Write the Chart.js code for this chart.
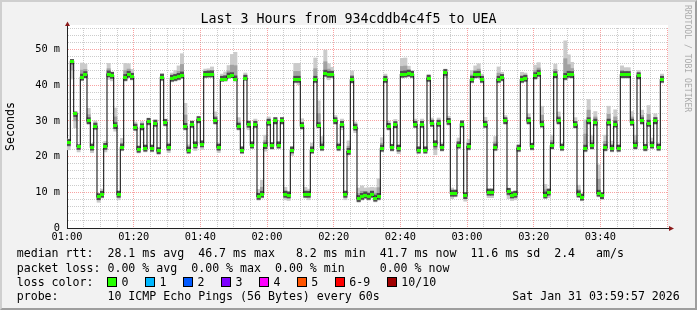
<!DOCTYPE html>
<html>
<head>
<meta charset="utf-8">
<script src="https://cdn.jsdelivr.net/npm/chart.js@4.4.1/dist/chart.umd.min.js"></script>
<style>
    html, body { margin: 0; padding: 0; }
    body {
        width: 697px; height: 310px; overflow: hidden; position: relative;
        background: #f2f2f2; color: #000;
        font-family: 'DejaVu Sans Mono', monospace;
    }
    #rtt { position: absolute; left: 0; top: 0; }
    #frame {
        position: absolute; left: 0; top: 0; width: 697px; height: 310px;
        box-sizing: border-box; border: 2px solid; pointer-events: none;
        border-color: #cfcfcf #9e9e9e #9e9e9e #cfcfcf;
    }
    .txt { position: absolute; white-space: pre; }
    #title { left: 0; width: 697px; top: 11px; text-align: center; font-size: 13.3px; line-height: 16px; }
    #unit { left: 4px; top: 151px; font-size: 11.6px; line-height: 13px; font-weight: normal; transform-origin: 0 0; transform: rotate(-90deg); }
    #mark { left: 692px; top: 5px; font-size: 8.1px; line-height: 9px; color: #ababab; transform-origin: 0 0; transform: rotate(90deg); }
    .leg { left: 16.7px; font-size: 11.6px; line-height: 14.2px; }
    .box { display: inline-block; width: 8px; height: 8px; border: 1px solid #000; margin-right: 4px; vertical-align: -1px; }
    .gap { display: inline-block; width: 17px; }
</style>
</head>
<body>
<canvas id="rtt" width="697" height="310"></canvas>
<div id="title" class="txt">Last 3 Hours from 934cddb4c4f5 to UEA</div>
<div id="unit" class="txt">Seconds</div>
<div id="mark" class="txt">RRDTOOL / TOBI OETIKER</div>
<div id="leg1" class="txt leg" style="top:246.4px"></div>
<div id="leg2" class="txt leg" style="top:260.6px"></div>
<div id="leg3" class="txt leg" style="top:274.8px"></div>
<div id="leg4" class="txt leg" style="top:289px"></div>
<div id="frame"></div>
<script>
// ── Data: one median (ms) per minute, 01:00 → 04:00 ───────────
const MEDIAN_MS = [
    23.9, 46.7, 32.0, 22.8, 42.2, 42.9, 30.0, 22.6, 28.5, 8.7,
    9.4, 22.8, 43.1, 42.7, 28.6, 9.4, 22.6, 42.1, 43.0, 42.4,
    28.2, 22.0, 28.3, 22.3, 29.8, 22.3, 29.3, 21.6, 42.2, 29.5,
    22.6, 41.9, 42.1, 42.4, 42.8, 28.4, 21.8, 29.0, 23.2, 30.3,
    23.5, 43.0, 43.1, 43.1, 30.0, 22.6, 41.6, 41.7, 42.5, 42.6,
    41.7, 28.4, 21.8, 41.9, 29.0, 23.2, 29.0, 8.8, 9.4, 23.0,
    29.6, 23.0, 30.0, 23.2, 30.0, 9.4, 9.2, 21.8, 41.6, 41.6,
    28.6, 9.4, 9.4, 21.8, 41.6, 28.6, 22.6, 43.3, 43.0, 43.0,
    30.0, 22.6, 29.0, 9.4, 21.4, 41.5, 28.2, 8.2, 8.8, 9.2,
    8.8, 9.4, 8.3, 8.8, 22.3, 41.6, 28.4, 22.5, 28.9, 22.3,
    43.0, 43.1, 43.3, 43.0, 29.0, 21.8, 29.0, 21.8, 41.9, 29.3,
    23.5, 29.3, 22.5, 43.5, 29.8, 9.7, 9.7, 23.2, 29.1, 9.0,
    22.8, 41.6, 42.9, 43.0, 41.6, 29.0, 10.0, 10.0, 22.6, 41.6,
    42.1, 30.0, 10.2, 9.2, 9.4, 22.3, 41.6, 41.9, 30.0, 22.8,
    42.6, 43.3, 29.1, 9.2, 10.0, 23.0, 42.9, 30.0, 22.6, 42.4,
    43.0, 42.9, 28.9, 9.5, 8.6, 22.3, 30.0, 23.0, 29.6, 9.7,
    9.0, 22.5, 29.6, 22.3, 29.1, 22.3, 42.9, 42.9, 42.9, 29.6,
    23.0, 42.6, 30.0, 22.5, 29.3, 23.2, 30.0, 22.6, 41.6
];
// smoke extent above / below the median (ms), read per minute
const SMOKE_UP = [
    1, 0.5, 0.5, 0.5, 4, 3, 3.5, 1, 1.5, 1,
    1.5, 1.5, 3, 1, 5, 1, 2.5, 4, 3, 2,
    1.5, 1, 1.5, 1, 1, 1, 1, 1, 1, 1,
    1, 1.5, 2, 3, 6, 6.5, 1.5, 1, 1, 1,
    1, 1.5, 1.5, 2, 2.5, 1, 1.5, 2, 3, 6,
    7.5, 2.5, 1, 1.5, 1, 1, 1.5, 2, 4, 3,
    1.5, 1, 1, 1, 1, 2, 1, 1, 4.5, 4.5,
    2, 2, 1.5, 2, 6, 7, 3, 6.5, 3, 2,
    1.5, 1, 1.5, 1, 3, 2.5, 1.5, 3, 3, 2,
    2.5, 2, 3, 5, 3, 1.5, 1.5, 1, 1.5, 1,
    4.5, 4.5, 2, 1, 1.5, 1, 1.5, 1, 1, 1.5,
    1, 1.5, 1.5, 1, 1.5, 1.5, 1, 2, 1, 1,
    2, 2.5, 2.5, 3, 1.5, 2, 1, 1, 3, 3.5,
    1.5, 1.5, 1, 1, 1, 1, 2, 1.5, 2, 1,
    3, 3, 5, 3, 1, 3, 3, 2.5, 1, 10,
    5.5, 3.5, 2, 2.5, 1, 8, 6, 3, 3, 8,
    1, 3.5, 4.5, 2, 4, 1, 2.5, 2, 2, 3,
    3, 1.5, 3, 1, 5, 2, 2, 1, 1.5
];
const SMOKE_DOWN = [
    2, 5, 4, 1.5, 1, 1, 1, 1.5, 1, 1.5,
    1, 1.5, 1.5, 1.5, 1.5, 1.5, 1, 1, 1, 1,
    1, 1, 1, 1, 1, 1, 1, 1, 1, 1,
    1.5, 1, 1, 1, 1, 1, 1, 1, 1.5, 1,
    1.5, 1, 1, 1, 1, 1.5, 0.5, 0.5, 0.5, 0.5,
    0.5, 1, 1, 0.5, 1.5, 1, 1, 1, 1, 1.5,
    1, 1, 1, 1, 1, 1.5, 1.5, 1.5, 1, 1.5,
    1, 1, 1.5, 1, 1, 0.5, 1, 1, 1.5, 1,
    1, 1, 1.5, 1.5, 1, 1, 1.5, 1, 1, 1,
    1, 1, 1, 1, 1, 1, 1, 1, 1, 1.5,
    1, 1, 1, 1, 1, 1, 1, 1, 1, 1,
    3, 1, 1, 1.5, 1, 1.5, 1, 1, 1, 1.5,
    1, 1, 1, 1, 1, 1, 1.5, 1.5, 1, 1,
    1, 1, 2, 1.5, 1.5, 1, 1, 1, 1, 1,
    1, 1, 1, 1, 1.5, 1, 1, 1, 1, 1,
    1, 1, 1, 1, 1, 1, 1, 1, 1, 1,
    1, 1, 1, 1, 1, 1, 1, 1, 1, 1,
    1, 1, 1, 1, 1, 1, 1, 1, 1
];

// x axis: minutes since 01:00
const TICK_MINUTES = [0, 20, 40, 60, 80, 100, 120, 140, 160];
const TICK_LABELS = ['01:00', '01:20', '01:40', '02:00', '02:20', '02:40', '03:00', '03:20', '03:40'];

// legend
const STAT_LINE = 'median rtt:  28.1 ms avg  46.7 ms max   8.2 ms min  41.7 ms now  11.6 ms sd  2.4   am/s';
const LOSS_LINE = 'packet loss: 0.00 % avg  0.00 % max  0.00 % min     0.00 % now';
const LOSS_LABELS = ['0', '1', '2', '3', '4', '5', '6-9', '10/10'];
const LOSS_COLORS = ['#26ff00', '#00b8ff', '#0059ff', '#7e00ff', '#ff00ff', '#ff5500', '#ff0000', '#a10000'];
const PROBE_LINE = 'probe:       10 ICMP Echo Pings (56 Bytes) every 60s                   Sat Jan 31 03:59:57 2026';

// ── Styles ────────────────────────────────────────────────────
const GRID_MINOR = 'rgba(143,143,143,0.45)';
const GRID_MAJOR = 'rgba(240,48,48,0.45)';
const AXIS_COLOR = '#222';
const ARROW_COLOR = '#8b1a1a';
const SMOKE_LIGHT = '#cbcbcb';
const SMOKE_MID = '#a2a2a2';
const SMOKE_DARK = '#4e4e4e';

(function () {
    'use strict';

    // ── Legend text ───────────────────────────────────────────
    document.getElementById('leg1').textContent = STAT_LINE;
    document.getElementById('leg2').textContent = LOSS_LINE;
    document.getElementById('leg4').textContent = PROBE_LINE;
    var leg3 = document.getElementById('leg3');
    leg3.appendChild(document.createTextNode('loss color:  '));
    LOSS_LABELS.forEach(function (lab, i) {
        var b = document.createElement('span');
        b.className = 'box';
        b.style.background = LOSS_COLORS[i];
        leg3.appendChild(b);
        leg3.appendChild(document.createTextNode(lab));
        var g = document.createElement('span');
        g.className = 'gap';
        leg3.appendChild(g);
    });

    // ── Datasets ──────────────────────────────────────────────
    var median = MEDIAN_MS.map(function (m, i) { return { x: i + 0.5, y: m }; });
    var light = MEDIAN_MS.map(function (m, i) {
        return { x: i + 0.5, y: [m - SMOKE_DOWN[i], m + SMOKE_UP[i]] };
    });
    var mid = MEDIAN_MS.map(function (m, i) {
        return { x: i + 0.5, y: [m - SMOKE_DOWN[i] * 0.5, m + SMOKE_UP[i] * 0.5] };
    });
    var dark = MEDIAN_MS.map(function (m, i) {
        return { x: i + 0.5, y: [m - Math.min(SMOKE_DOWN[i], 0.8), m + Math.min(SMOKE_UP[i], 0.9)] };
    });

    // green median marker
    var mark = document.createElement('canvas');
    mark.width = 4; mark.height = 3;
    var mc = mark.getContext('2d');
    mc.fillStyle = LOSS_COLORS[0];
    mc.fillRect(0, 0, 4, 3);

    function smoke(data, color, order) {
        return {
            type: 'bar', data: data, backgroundColor: color, borderWidth: 0,
            grouped: false, barPercentage: 1, categoryPercentage: 1, order: order
        };
    }

    // ── Plugins ───────────────────────────────────────────────
    var plotBg = {
        id: 'plotBg',
        beforeDraw: function (chart) {
            var a = chart.chartArea, c = chart.ctx;
            c.save();
            c.fillStyle = '#fff';
            c.fillRect(a.left, a.top - 3, a.right - a.left + 1, a.bottom - a.top + 3);
            c.restore();
        }
    };
    var arrows = {
        id: 'arrows',
        afterDraw: function (chart) {
            var a = chart.chartArea, c = chart.ctx;
            var x0 = Math.round(a.left) + 0.5, y0 = Math.round(a.bottom) + 0.5;
            c.save();
            c.strokeStyle = AXIS_COLOR;
            c.lineWidth = 1;
            c.beginPath();
            c.moveTo(x0, a.top); c.lineTo(x0, a.top - 3);
            c.moveTo(a.right, y0); c.lineTo(a.right + 3, y0);
            c.stroke();
            c.fillStyle = ARROW_COLOR;
            c.beginPath();
            c.moveTo(x0 - 2.5, a.top - 2); c.lineTo(x0 + 2.5, a.top - 2); c.lineTo(x0, a.top - 6.5);
            c.closePath(); c.fill();
            c.beginPath();
            c.moveTo(a.right + 2, y0 - 2.5); c.lineTo(a.right + 2, y0 + 2.5); c.lineTo(a.right + 7, y0);
            c.closePath(); c.fill();
            c.restore();
        }
    };

    var tickFont = { family: 'DejaVu Sans Mono', size: 10.3 };

    new Chart(document.getElementById('rtt'), {
        type: 'bar',
        data: {
            datasets: [
                {
                    type: 'line', data: median, order: 1,
                    borderColor: '#1a1a1a', borderWidth: 1.1, stepped: 'middle',
                    pointStyle: mark, pointRadius: 2, pointHoverRadius: 2
                },
                smoke(dark, SMOKE_DARK, 2),
                smoke(mid, SMOKE_MID, 3),
                smoke(light, SMOKE_LIGHT, 4)
            ]
        },
        options: {
            responsive: false,
            animation: false,
            devicePixelRatio: 1,
            events: [],
            layout: { padding: { left: 0, top: 28, right: 30, bottom: 0 } },
            plugins: { legend: { display: false }, tooltip: { enabled: false } },
            scales: {
                x: {
                    type: 'linear', min: 0, max: 180, offset: false,
                    afterFit: function (s) { s.height = 82; },
                    grid: {
                        offset: false, drawTicks: false, lineWidth: 1,
                        color: function (c) { return c.tick.value % 20 === 0 ? GRID_MAJOR : GRID_MINOR; }
                    },
                    border: { display: true, color: AXIS_COLOR, width: 1, dash: [1, 1] },
                    ticks: {
                        stepSize: 5, autoSkip: false, maxRotation: 0, padding: 3,
                        color: '#000', font: tickFont,
                        callback: function (v) {
                            var k = TICK_MINUTES.indexOf(v);
                            return k < 0 ? '' : TICK_LABELS[k];
                        }
                    }
                },
                y: {
                    min: 0, max: 56,
                    afterFit: function (s) { s.width = 67; },
                    grid: {
                        drawTicks: false, lineWidth: 1,
                        color: function (c) { return c.tick.value % 10 === 0 ? GRID_MAJOR : GRID_MINOR; }
                    },
                    border: { display: true, color: AXIS_COLOR, width: 1, dash: [1, 1] },
                    ticks: {
                        stepSize: 2, autoSkip: false, padding: 7,
                        color: '#000', font: tickFont,
                        callback: function (v) {
                            if (v % 10 !== 0) return '';
                            return v === 0 ? '0' : v + ' m';
                        }
                    }
                }
            }
        },
        plugins: [plotBg, arrows]
    });
})();
</script>
</body>
</html>
